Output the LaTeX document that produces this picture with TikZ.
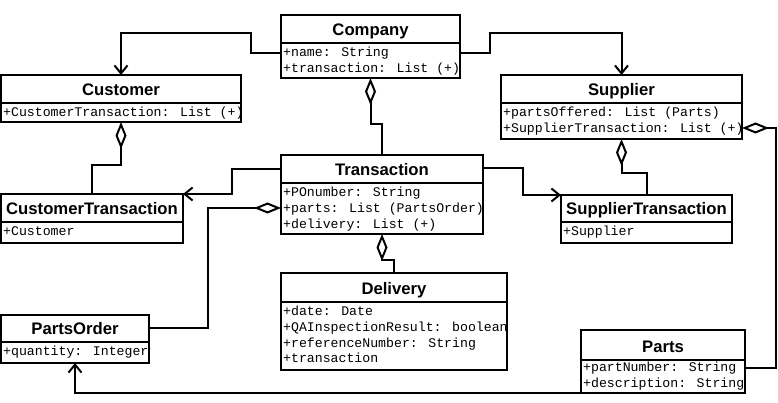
\documentclass[tikz,border=0pt]{standalone}
\usepackage{fontspec}
\setmainfont{Liberation Sans}
\newfontfamily\umlmono{Liberation Mono}
\usetikzlibrary{arrows.meta}
\tikzset{
  x=1pt, y=-1pt,
  clsbox/.style={draw, line width=2pt, rectangle, inner sep=0pt, outer sep=0pt, anchor=north west},
  clsline/.style={line width=2pt},
  clstitle/.style={font=\fontsize{16.7}{20}\selectfont\bfseries, anchor=base, inner sep=0pt},
  clsattr/.style={font=\umlmono\fontsize{13.2}{15.8}\selectfont, anchor=base west, inner sep=0pt},
  conn/.style={line width=2pt},
  assoc/.style={conn, -{Straight Barb[length=8pt,width=13pt]}},
  aggr/.style={conn, {Diamond[open,length=27pt,width=11pt]}-},
}
% name, x1, y1, x2, yheader, y2, title, attributes, first-baseline offset
\newcommand\umlcls[9]{%
  \node[clsbox, minimum width={(#4-#2)*1pt}, minimum height={(#6-#3)*1pt}] (#1) at (#2,#3) {};
  \draw[clsline] (#1.west |- 0,#5) -- (#1.east |- 0,#5);
  \node[clstitle] (#1-title) at ({(#2+#4)/2},{#5-7.5}) {#7};
  \foreach \attr [count=\k] in {#8} {
    \node[clsattr] (#1-attr\k) at ({#2+2},{#5+#9+15.8*(\k-1)}) {\attr};
  }
}
\begin{document}
\begin{tikzpicture}
\useasboundingbox (0,0) rectangle (778,403);
\fill[white] (0,0) rectangle (778,403);

\umlcls{company}{281}{15}{460}{43}{78}{Company}{{+name: String},{+transaction: List (+)}}{13.5}
\umlcls{customer}{1}{75}{241}{103}{122}{Customer}{{+CustomerTransaction: List (+)}}{13.5}
\umlcls{supplier}{501}{75}{742}{103}{139}{Supplier}{{+partsOffered: List (Parts)},{+SupplierTransaction: List (+)}}{13.5}
\umlcls{transaction}{281}{155}{483}{183}{234}{Transaction}{{+POnumber: String},{+parts: List (PartsOrder)},{+delivery: List (+)}}{13.5}
\umlcls{custtrans}{1}{194}{183}{222}{243}{CustomerTransaction}{{+Customer}}{13.5}
\umlcls{suptrans}{561}{195}{732}{222}{243}{SupplierTransaction}{{+Supplier}}{13.5}
\umlcls{delivery}{281}{273}{507}{302}{370}{Delivery}{{+date: Date},{+QAInspectionResult: boolean},{+referenceNumber: String},{+transaction}}{13.5}
\umlcls{partsorder}{1}{315}{149}{342}{363}{PartsOrder}{{+quantity: Integer}}{13.5}
\umlcls{parts}{581}{330}{745}{360}{393}{Parts}{{+partNumber: String},{+description: String}}{11.5}

% associations
\draw[assoc] (company.west |- 0,53) -- (251,53) -- (251,33) -- (customer.north |- 0,33) -- (customer.north);
\draw[assoc] (company.east |- 0,53) -- (490,53) -- (490,33) -- (supplier.north |- 0,33) -- (supplier.north);
\draw[assoc] (transaction.west |- 0,169) -- (232,169) -- (232,194) -- (custtrans.north east);
\draw[assoc] (transaction.east |- 0,168) -- (523,168) -- (523,195) -- (suptrans.north west);
\draw[assoc] (parts.south west) -- (partsorder.south |- 0,393) -- (partsorder.south);

% aggregations
\draw[aggr] (company.south) -- (company.south |- 0,124) -- (transaction.north |- 0,124) -- (transaction.north);
\draw[aggr] (customer.south) -- (customer.south |- 0,165) -- (custtrans.north |- 0,165) -- (custtrans.north);
\draw[aggr] (supplier.south) -- (supplier.south |- 0,173) -- (suptrans.north |- 0,173) -- (suptrans.north);
\draw[aggr] (transaction.south) -- (transaction.south |- 0,260) -- (delivery.north |- 0,260) -- (delivery.north);
\draw[aggr] (transaction.west |- 0,208) -- (208,208) -- (208,328) -- (partsorder.east |- 0,328);
\draw[aggr] (supplier.east |- 0,128) -- (776,128) -- (776,368) -- (parts.east |- 0,368);
\end{tikzpicture}
\end{document}
